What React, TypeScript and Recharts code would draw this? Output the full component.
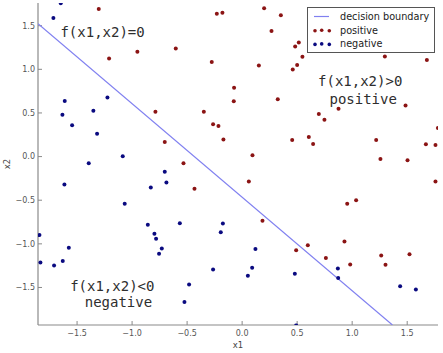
import React from 'react';
import { ScatterChart, Scatter, XAxis, YAxis, Legend, ReferenceDot } from 'recharts';

// ---- data ----
const positiveX = [
  -1.303, -1.209, -0.952, -0.23, -0.179, 0.2, 0.352, 0.267, -0.603, -0.276, 0.152, -0.073,
  -0.076, 0.324, -0.788, -0.348, 0.515, 0.482, 0.548, 0.5, 0.46, 1.297, 1.679, 1.485, 0.876,
  0.697, 0.748, 0.455, 0.606, 0.645, 1.218, 1.257, 1.503, 1.67, 1.757, 1.779, 1.757, 0.955,
  1.036, -0.264, -0.215, -0.17, -0.703, 0.094, -0.533, 0.061, -0.433, 0.185, 0.491, 0.597,
  0.93, 0.761, 0.982, 1.264, 1.303, 1.521,
];
const positiveY = [
  1.69, 1.125, 1.2, 1.636, 1.648, 1.7, 1.62, 1.44, 1.24, 1.083, 1.045, 0.79,
  0.633, 0.656, 0.515, 0.515, 1.308, 1.262, 1.144, 1.049, 0.999, 1.148, 1.106, 0.584, 0.549,
  0.488, 0.423, 0.19, 0.225, 0.145, 0.19, -0.027, -0.042, 0.141, 0.134, 0.328, -0.286, -0.541,
  -0.5, 0.37, 0.351, 0.195, 0.168, 0.015, -0.077, -0.286, -0.37, -0.736, -1.072, -1.015,
  -0.973, -1.163, -1.236, -1.133, -1.24, -1.118,
];
const negativeX = [
  -1.715, -1.648, -1.612, -1.224, -1.633, -1.352, -1.545, -1.318, -1.394, -1.085, -1.615,
  -1.067, -0.703, -0.688, -0.83, -0.857, -0.566, -0.175, -0.797, -0.194, -1.842, -1.833,
  -1.709, -1.63, -1.575, -0.782, -0.73, -0.755, -0.264, -0.482, -0.524, 0.121, 0.091, 0.052,
  0.479, 0.87, 0.873, 1.436, 1.579, 0.491,
];
const negativeY = [
  1.587, 1.758, 0.637, 0.678, 0.48, 0.526, 0.358, 0.263, -0.077, 0.003, -0.32,
  -0.541, -0.175, -0.297, -0.355, -0.782, -0.763, -0.767, -0.885, -0.866, -0.9, -1.213,
  -1.247, -1.198, -1.045, -0.942, -1.053, -1.113, -1.293, -1.465, -1.667, -1.06, -1.274, -1.365,
  -1.343, -1.282, -1.392, -1.487, -1.522, -1.937,
];
const boundaryX = [-1.855, 1.366];
const boundaryY = [1.522, -1.93];

const xTicks = [-1.5, -1.0, -0.5, 0.0, 0.5, 1.0, 1.5];
const yTicks = [-1.5, -1.0, -0.5, 0.0, 0.5, 1.0, 1.5];
const xDomain = [-1.855, 1.78];
const yDomain = [-1.93, 1.76];

const annotationText = ['f(x1,x2)=0', 'f(x1,x2)>0', 'positive', 'f(x1,x2)<0', 'negative'];
const annotationX = [-1.268, 1.073, 1.1, -1.18, -1.124];
const annotationY = [1.425, 0.87, 0.664, -1.487, -1.67];

const seriesNames = ['decision boundary', 'positive', 'negative'];

// ---- derived tables ----
const positive = positiveX.map((x, i) => ({ x, y: positiveY[i] }));
const negative = negativeX.map((x, i) => ({ x, y: negativeY[i] }));
const boundary = boundaryX.map((x, i) => ({ x, y: boundaryY[i] }));
const annotations = annotationText.map((t, i) => ({ t, x: annotationX[i], y: annotationY[i] }));

const RED = '#8b1414';
const BLUE = '#0a0a80';
const LINE = '#8080f0';
const SPINE = '#8a8a8a';
const TICK_TEXT = '#555';

const fmt = (v: number) => (v < 0 ? '\u2212' : '') + Math.abs(v).toFixed(1);

const dot = (color: string) => (props: any) =>
  props.cx == null ? <g /> : <circle cx={props.cx} cy={props.cy} r={2} fill={color} />;

const LegendBox = (props: any) => {
  const payload = [...(props.payload || [])].sort(
    (a: any, b: any) => seriesNames.indexOf(a.value) - seriesNames.indexOf(b.value)
  );
  return (
    <div
      style={{
        width: 128,
        height: 46,
        boxSizing: 'border-box',
        border: '1px solid #555',
        background: '#fff',
        fontFamily: 'DejaVu Sans',
        fontSize: 9.7,
        color: '#222',
      }}
    >
      <svg width={126} height={44} style={{ display: 'block' }}>
        {payload.map((p: any, i: number) => {
          const cy = 8.5 + i * 13.7;
          const isLine = p.value === seriesNames[0];
          const color = p.color;
          return (
            <g key={i}>
              {isLine ? (
                <line x1={6} x2={21} y1={cy} y2={cy} stroke={LINE} strokeWidth={1.2} />
              ) : (
                <g>
                  <circle cx={7} cy={cy + 0.5} r={1.8} fill={color} />
                  <circle cx={13.7} cy={cy} r={1.8} fill={color} />
                  <circle cx={21.3} cy={cy + 0.5} r={1.8} fill={color} />
                </g>
              )}
              <text x={32} y={cy + 3.4} fontFamily="DejaVu Sans" fontSize={9.7} fill="#222">
                {p.value}
              </text>
            </g>
          );
        })}
      </svg>
    </div>
  );
};

export default function App() {
  const tickStyle = { fontSize: 8, fill: TICK_TEXT, fontFamily: 'DejaVu Sans' };
  return (
    <div style={{ position: 'absolute', left: 0, top: 0, background: '#fff' }}>
      <ScatterChart width={443} height={353} margin={{ top: 3, right: 5, left: 0, bottom: 0 }}>
        <XAxis
          xAxisId="b"
          type="number"
          dataKey="x"
          domain={xDomain}
          allowDataOverflow
          ticks={xTicks}
          tickFormatter={fmt}
          height={28}
          tickSize={-4}
          tickMargin={9.5}
          tick={tickStyle}
          axisLine={{ stroke: SPINE, strokeWidth: 1.2 }}
          tickLine={{ stroke: SPINE }}
          label={{ value: 'x1', position: 'insideBottom', offset: 5, fontSize: 8.5, fill: '#444', fontFamily: 'DejaVu Sans' }}
        />
        <XAxis
          xAxisId="t"
          orientation="top"
          type="number"
          dataKey="x"
          domain={xDomain}
          allowDataOverflow
          ticks={xTicks}
          height={0}
          tickSize={-4}
          tick={false}
          axisLine={{ stroke: SPINE, strokeWidth: 1.2 }}
          tickLine={{ stroke: SPINE }}
        />
        <YAxis
          yAxisId="l"
          type="number"
          dataKey="y"
          domain={yDomain}
          allowDataOverflow
          ticks={yTicks}
          tickFormatter={fmt}
          width={38}
          tickSize={-4}
          tickMargin={7}
          tick={tickStyle}
          axisLine={{ stroke: SPINE, strokeWidth: 1.2 }}
          tickLine={{ stroke: SPINE }}
          label={{ value: 'x2', angle: -90, position: 'insideLeft', offset: 7, fontSize: 8.5, fill: '#444', fontFamily: 'DejaVu Sans', style: { textAnchor: 'middle' } }}
        />
        <YAxis
          yAxisId="r"
          orientation="right"
          type="number"
          dataKey="y"
          domain={yDomain}
          allowDataOverflow
          ticks={yTicks}
          width={0}
          tickSize={-4}
          tick={false}
          axisLine={{ stroke: SPINE, strokeWidth: 1.2 }}
          tickLine={{ stroke: SPINE }}
        />
        <Legend
          layout="horizontal"
          verticalAlign="middle"
          align="center"
          content={LegendBox}
          wrapperStyle={{ position: 'absolute', left: 307, top: 7, width: 128, height: 46 }}
        />
        <Scatter
          name={seriesNames[0]}
          xAxisId="b"
          yAxisId="l"
          data={boundary}
          fill={LINE}
          line={{ stroke: LINE, strokeWidth: 1.2 }}
          legendType="line"
          shape={() => <g />}
          isAnimationActive={false}
        />
        <Scatter
          name={seriesNames[1]}
          xAxisId="b"
          yAxisId="l"
          data={positive}
          fill={RED}
          shape={dot(RED)}
          isAnimationActive={false}
        />
        <Scatter
          name={seriesNames[2]}
          xAxisId="b"
          yAxisId="l"
          data={negative}
          fill={BLUE}
          shape={dot(BLUE)}
          isAnimationActive={false}
        />
        {annotations.map((a, i) => (
          <ReferenceDot
            key={i}
            xAxisId="b"
            yAxisId="l"
            x={a.x}
            y={a.y}
            r={0}
            fill="none"
            stroke="none"
            label={{ value: a.t, position: 'center', fontSize: 14, fill: '#2e2e2e', fontFamily: 'DejaVu Sans Mono' }}
          />
        ))}
      </ScatterChart>
    </div>
  );
}
